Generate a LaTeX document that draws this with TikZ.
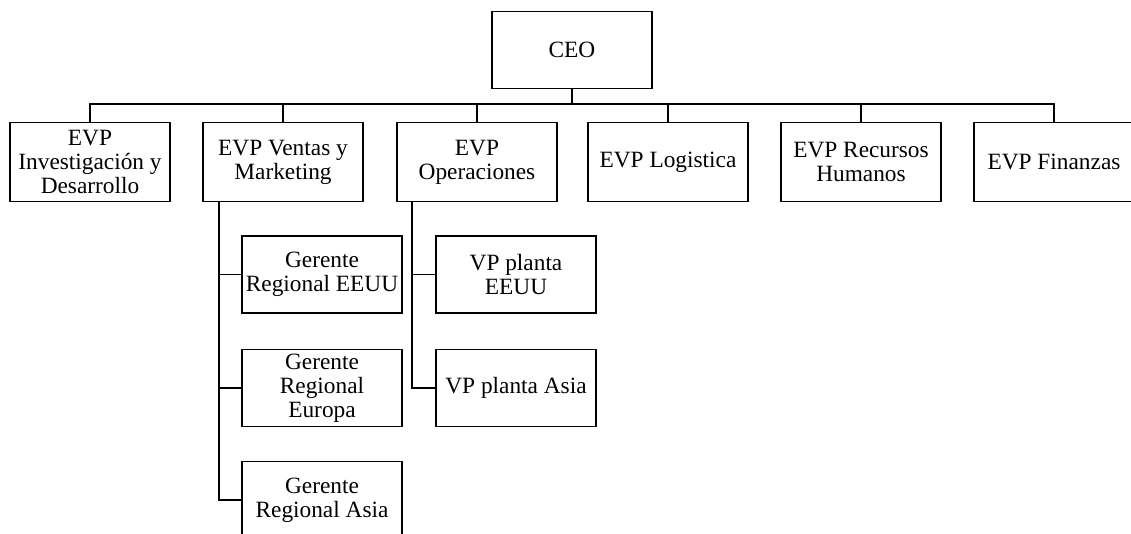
\documentclass[tikz,border=0pt]{standalone}
\usepackage{fontspec}
\setmainfont{Liberation Serif}
\usepackage{tikz}
\usetikzlibrary{calc}

\begin{document}
\begin{tikzpicture}[
    x=0.75pt, y=-0.75pt,
    line width=1.2pt,
    every node/.style={font=\rmfamily\fontsize{17.5}{18}\selectfont},
    orgbox/.style={draw, align=center, inner sep=0pt, minimum width=120pt, minimum height=59pt},
    subbox/.style={orgbox, minimum height=58pt}
  ]
    \useasboundingbox (0,0) rectangle (1131,534);
    \node[orgbox, minimum height=58pt] (ceo) at (572,50) {CEO};
    \node[orgbox] (rd) at (90,162) {EVP\\Investigación y\\Desarrollo};
    \node[orgbox] (vm) at (283,162) {EVP Ventas y\\Marketing};
    \node[orgbox] (op) at (477,162) {EVP\\Operaciones};
    \node[orgbox] (lo) at (668,162) {EVP Logistica};
    \node[orgbox] (rh) at (861,162) {EVP Recursos\\Humanos};
    \node[orgbox] (fi) at (1054,162) {EVP Finanzas};
    \node[subbox] (ger1) at (322,274.5) {Gerente\\Regional EEUU};
    \node[subbox] (ger2) at (322,388) {Gerente\\Regional\\Europa};
    \node[subbox] (ger3) at (322,500) {Gerente\\Regional Asia};
    \node[subbox] (vp1) at (516,274.5) {VP planta\\EEUU};
    \node[subbox] (vp2) at (516,388) {VP planta Asia};
    % ramas
    \coordinate (bus) at (572,104);
    \coordinate (vmtrunk) at (219,201.5);
    \coordinate (optrunk) at (412,201.5);
    \draw (ceo.south) -- (bus);
    \foreach \n in {rd,vm,op,lo,rh,fi}
      \draw (\n.north) |- (bus);
    \foreach \g in {ger1,ger2,ger3}
      \draw (vmtrunk) |- (\g.west);
    \foreach \v in {vp1,vp2}
      \draw (optrunk) |- (\v.west);
  \end{tikzpicture}
\end{document}
